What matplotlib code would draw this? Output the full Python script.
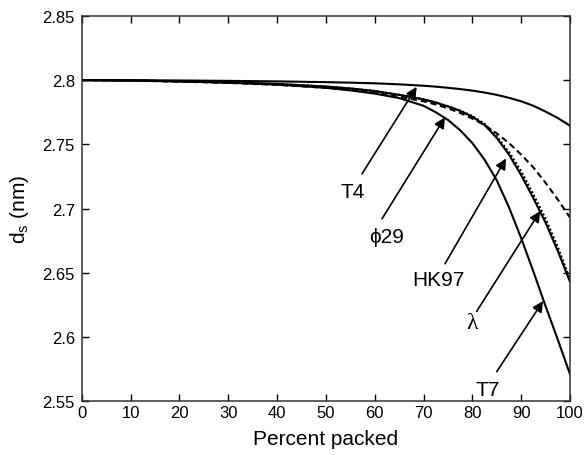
import matplotlib
matplotlib.use("Agg")
import matplotlib.pyplot as plt

plt.rcParams['font.family'] = ['Liberation Sans', 'DejaVu Sans']

# Percent packed sample positions
x_pct = [0, 10, 20, 30, 40, 50, 55, 60, 65, 70, 72.5, 75, 77.5, 80, 82.5,
         85, 87.5, 90, 92.5, 95, 97.5, 100]

# d_s (nm)
ds_T4 = [2.8000, 2.7999, 2.7997, 2.7994, 2.7990, 2.7984, 2.7980, 2.7975, 2.7967, 2.7956,
         2.7949, 2.7940, 2.7930, 2.7918, 2.7903, 2.7885, 2.7862, 2.7835, 2.7800, 2.7755,
         2.7705, 2.7645]
ds_phi29 = [2.8000, 2.7996, 2.7988, 2.7978, 2.7963, 2.7940, 2.7925, 2.7900, 2.7870, 2.7835,
            2.7810, 2.7780, 2.7745, 2.7700, 2.7650, 2.7585, 2.7510, 2.7420, 2.7320, 2.7200,
            2.7070, 2.6930]
ds_HK97 = [2.8000, 2.7997, 2.7990, 2.7982, 2.7970, 2.7950, 2.7935, 2.7915, 2.7885, 2.7850,
           2.7825, 2.7795, 2.7760, 2.7715, 2.7650, 2.7550, 2.7420, 2.7260, 2.7080, 2.6890,
           2.6670, 2.6430]
ds_lambda = [2.8000, 2.7997, 2.7990, 2.7982, 2.7970, 2.7950, 2.7935, 2.7915, 2.7885, 2.7850,
             2.7826, 2.7797, 2.7763, 2.7720, 2.7660, 2.7560, 2.7440, 2.7290, 2.7110, 2.6920,
             2.6700, 2.6450]
ds_T7 = [2.8000, 2.7997, 2.7990, 2.7980, 2.7965, 2.7940, 2.7920, 2.7895, 2.7860, 2.7800,
         2.7750, 2.7690, 2.7610, 2.7510, 2.7380, 2.7220, 2.7010, 2.6770, 2.6510, 2.6240,
         2.5980, 2.5710]

labels = ['T4', 'ϕ29', 'HK97', 'λ', 'T7']
label_xy = [(55.5, 2.713), (62.5, 2.678), (73.0, 2.645), (80.0, 2.611), (83.2, 2.559)]
arrow_tail = [(57.4, 2.727), (61.5, 2.692), (74.4, 2.657), (80.9, 2.620), (85.0, 2.573)]
arrow_tip = [(68.6, 2.7947), (74.4, 2.771), (86.9, 2.739), (93.9, 2.698), (94.5, 2.628)]

x_ticks = [0, 10, 20, 30, 40, 50, 60, 70, 80, 90, 100]
y_ticks = [2.55, 2.6, 2.65, 2.7, 2.75, 2.8, 2.85]
y_ticklabels = ['2.55', '2.6', '2.65', '2.7', '2.75', '2.8', '2.85']

fig = plt.figure(figsize=(5.84, 4.56), dpi=100)
ax = fig.add_axes([0.140, 0.118, 0.836, 0.845])

lw = 1.5
ax.plot(x_pct, ds_T4, color='black', lw=lw)
ax.plot(x_pct, ds_phi29, color='black', lw=lw, linestyle=(0, (3.0, 1.8)))
ax.plot(x_pct, ds_HK97, color='black', lw=lw)
ax.plot(x_pct, ds_lambda, color='black', lw=lw, linestyle=(0, (1.0, 1.0)))
ax.plot(x_pct, ds_T7, color='black', lw=lw)

for lab, (lx, ly), tail, tip in zip(labels, label_xy, arrow_tail, arrow_tip):
    ax.annotate('', xy=tip, xytext=tail,
                arrowprops=dict(arrowstyle='-|>', color='black', lw=1.2,
                                mutation_scale=16, shrinkA=0, shrinkB=0))
    if lab == 'λ':
        ax.text(lx, ly, lab, fontsize=17, ha='center', va='center',
                family=['Liberation Serif', 'DejaVu Serif'])
    else:
        ax.text(lx, ly, lab, fontsize=15, ha='center', va='center',
                family=['Liberation Sans', 'DejaVu Sans'])

ax.set_xlim(0, 100)
ax.set_ylim(2.55, 2.85)
ax.set_xticks(x_ticks)
ax.set_yticks(y_ticks)
ax.set_yticklabels(y_ticklabels)
ax.tick_params(direction='in', length=5, width=1, top=True, right=True,
               labelsize=12, colors='black', pad=5)
ax.tick_params(axis='x', pad=3)
for s in ax.spines.values():
    s.set_linewidth(1.1)
    s.set_color('#333333')

ax.set_xlabel('Percent packed', fontsize=15, labelpad=6)
ax.set_ylabel(r'$\mathregular{d_s}$ (nm)', fontsize=15, labelpad=8)

fig.savefig('out.png', dpi=100)
